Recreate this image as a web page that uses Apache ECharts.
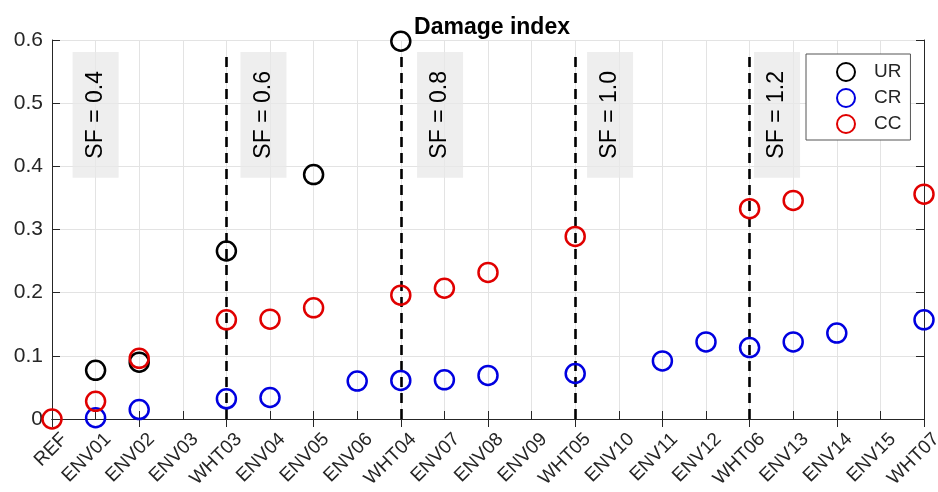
<!DOCTYPE html>
<html>
<head>
<meta charset="utf-8">
<script src="https://cdn.jsdelivr.net/npm/echarts@6/dist/echarts.min.js"></script>
<style>
html,body{margin:0;padding:0;background:#fff;}
#chart{width:938px;height:492px;}
</style>
</head>
<body>
<div id="chart"></div>
<script>
const categories = ['REF','ENV01','ENV02','ENV03','WHT03','ENV04','ENV05','ENV06','WHT04','ENV07','ENV08','ENV09','WHT05','ENV10','ENV11','ENV12','WHT06','ENV13','ENV14','ENV15','WHT07'];
const urValues = [null,0.077,0.090,null,0.266,null,0.387,null,0.598,null,null,null,null,null,null,null,null,null,null,null,null];
const crValues = [null,0.002,0.015,null,0.032,0.034,null,0.060,0.061,0.062,0.069,null,0.072,null,0.092,0.122,0.113,0.122,0.136,null,0.157];
const ccValues = [0,0.028,0.096,null,0.157,0.158,0.176,null,0.196,0.207,0.232,null,0.289,null,null,null,0.333,0.346,null,null,0.356];
const seriesNames = ['UR','CR','CC'];
const yTickValues = [0,0.1,0.2,0.3,0.4,0.5,0.6];
const sfLabels = ['SF = 0.4','SF = 0.6','SF = 0.8','SF = 1.0','SF = 1.2'];
const sfAnchors = [1.0, 4.85, 8.9, 12.8, 16.63];   // position in category units
const sfBand = [0.382, 0.581];                       // y-range of the SF label boxes
const sfLines = ['WHT03','WHT04','WHT05','WHT06'];
const sfLineTop = 0.58;

const colors = ['#000000','#0000e0','#e00000'];
const AX = '#262626';
const FONT = '"Liberation Sans", Arial, Helvetica, sans-serif';

const chart = echarts.init(document.getElementById('chart'));

function scatter(name, data, color, extra) {
  return Object.assign({
    name: name,
    type: 'scatter',
    data: data,
    symbol: 'circle',
    symbolSize: 19,
    itemStyle: { color: 'rgba(0,0,0,0)', borderColor: color, borderWidth: 2.5, opacity: 1 },
    emphasis: { disabled: true },
    z: 5
  }, extra || {});
}

const option = {
  animation: false,
  backgroundColor: '#fff',
  title: {
    text: 'Damage index',
    left: 487, textAlign: 'center', top: 11,
    textStyle: { fontFamily: FONT, fontSize: 23, fontWeight: 'bold', color: '#000' }
  },
  legend: {
    data: seriesNames,
    orient: 'vertical',
    left: 806, top: 54,
    padding: [8, 9, 6, 30],
    itemGap: 6,
    itemWidth: 18, itemHeight: 18,
    backgroundColor: '#fff',
    borderColor: '#555', borderWidth: 1, borderRadius: 0,
    textStyle: { fontFamily: FONT, fontSize: 19, color: AX, padding: [0, 0, 0, 14] }
  },
  grid: { left: 52, right: 14, top: 40, bottom: 73, containLabel: false, outerBoundsMode: 'none' },
  xAxis: [{
    type: 'category', data: categories, boundaryGap: false, position: 'bottom',
    axisLine: { lineStyle: { color: AX, width: 1 } },
    axisTick: { inside: true, length: 8, alignWithLabel: true, lineStyle: { color: AX } },
    axisLabel: { interval: 0, rotate: 45, margin: 5, verticalAlign: 'top', align: 'right',
      padding: [8, 0, 0, 0], fontFamily: FONT, fontSize: 19, color: AX },
    splitLine: { show: true, lineStyle: { color: '#e3e3e3', width: 1 } }
  }, {
    type: 'category', data: categories, boundaryGap: false, position: 'top',
    axisLine: { lineStyle: { color: AX, width: 1 } },
    axisTick: { inside: true, length: 8, lineStyle: { color: AX } },
    axisLabel: { show: false },
    splitLine: { show: false }
  }],
  yAxis: [{
    type: 'value', min: 0, max: 0.6, interval: 0.1, position: 'left',
    axisLine: { show: true, lineStyle: { color: AX, width: 1 } },
    axisTick: { show: true, inside: true, length: 8, lineStyle: { color: AX } },
    axisLabel: { margin: 9, fontFamily: FONT, fontSize: 21, color: AX,
      formatter: v => String(parseFloat(v.toFixed(1))) },
    splitLine: { show: true, lineStyle: { color: '#e3e3e3', width: 1 } }
  }, {
    type: 'value', min: 0, max: 0.6, interval: 0.1, position: 'right',
    axisLine: { show: true, lineStyle: { color: AX, width: 1 } },
    axisTick: { show: true, inside: true, length: 8, lineStyle: { color: AX } },
    axisLabel: { show: false },
    splitLine: { show: false }
  }],
  series: [
    {
      type: 'custom',
      name: 'sfBoxes',
      xAxisIndex: 0, yAxisIndex: 0,
      silent: true,
      z: 2,
      data: sfAnchors.map(a => [Math.floor(a), sfBand[0]]),
      renderItem: function (params, api) {
        const i = params.dataIndex;
        const a = sfAnchors[i];
        const k = Math.floor(a);
        const f = a - k;
        const pA = api.coord([k, sfBand[1]]);
        const pB = api.coord([k + 1, sfBand[0]]);
        const cx = pA[0] + f * (pB[0] - pA[0]);
        const w = 46;
        return {
          type: 'group',
          children: [{
            type: 'rect',
            shape: { x: cx - w / 2, y: pA[1], width: w, height: pB[1] - pA[1] },
            style: { fill: 'rgba(232,232,232,0.75)' }
          }, {
            type: 'text',
            x: cx, y: (pA[1] + pB[1]) / 2,
            rotation: Math.PI / 2,
            style: { text: sfLabels[i], x: 0, y: 0, align: 'center', verticalAlign: 'middle',
              font: '23px ' + FONT, fill: '#000' }
          }]
        };
      }
    },
    scatter(seriesNames[0], urValues, colors[0]),
    scatter(seriesNames[1], crValues, colors[1]),
    scatter(seriesNames[2], ccValues, colors[2], {
      markLine: {
        silent: true,
        symbol: ['none', 'none'],
        label: { show: false },
        lineStyle: { color: '#000', width: 2.6, type: [10, 6] },
        emphasis: { disabled: true },
        data: sfLines.map(c => [{ coord: [c, 0] }, { coord: [c, sfLineTop] }])
      }
    })
  ]
};
chart.setOption(option);
</script>
</body>
</html>
